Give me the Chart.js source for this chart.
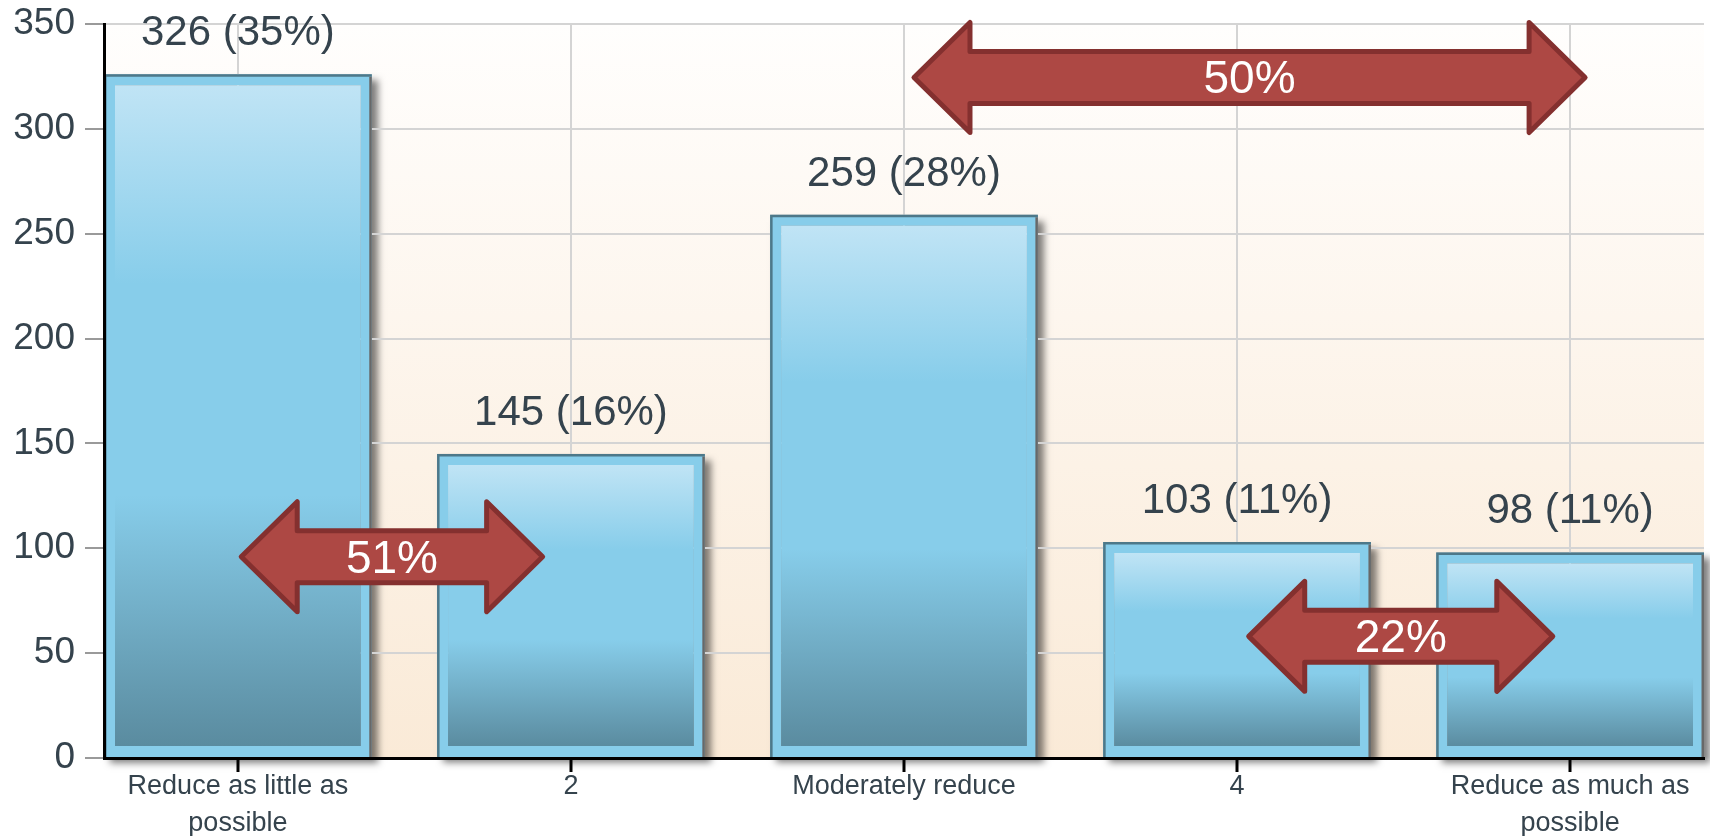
<!DOCTYPE html>
<html>
<head>
<meta charset="utf-8">
<script src="https://cdn.jsdelivr.net/npm/chart.js@4/dist/chart.umd.min.js"></script>
<style>
  html, body { margin: 0; padding: 0; background: #ffffff; overflow: hidden; }
  #wrap { width: 1710px; height: 836px; position: relative; }
</style>
</head>
<body>
<div id="wrap"><canvas id="chart"></canvas></div>
<script>
// Answer categories (multi-line labels are given as arrays of lines)
const categories = [
  ['Reduce as little as', 'possible'],
  '2',
  'Moderately reduce',
  '4',
  ['Reduce as much as', 'possible']
];
// Number of responses per category
const counts = [326, 145, 259, 103, 98];
// Value axis ticks
const yTicks = [0, 50, 100, 150, 200, 250, 300, 350];
// Combined shares shown on the double arrows
const arrowLabels = ['51%', '50%', '22%'];

// Where each double arrow sits, in axis units (category index / count)
const arrowSpans = [
  { from: 0.01, to: 0.915, level: 96 },
  { from: 2.03, to: 4.045, level: 324.5 },
  { from: 3.035, to: 3.948, level: 58 }
];

const FONT = "'Liberation Sans', Arial, Helvetica, sans-serif";
const TEXT = '#35434d';
const FRAME = '#87cdea';
const FRAME_W = 11;

const total = counts.reduce((a, b) => a + b, 0);

function barFill(c) {
  const chart = c.chart;
  const ys = chart.scales && chart.scales.y;
  if (c.type !== 'data' || !ys || !c.parsed) return FRAME;
  const top = ys.getPixelForValue(c.parsed.y) + FRAME_W;
  const bot = ys.getPixelForValue(0) - FRAME_W;
  if (!isFinite(top) || !isFinite(bot) || bot <= top) return FRAME;
  const g = chart.ctx.createLinearGradient(0, top, 0, bot);
  g.addColorStop(0, '#c0e4f5');
  g.addColorStop(0.3, '#87cdea');
  g.addColorStop(0.62, '#87cdea');
  g.addColorStop(1, '#5a8b9f');
  return g;
}

function drawArrow(ctx, x0, x1, yc, label) {
  const headLen = 56, headHalf = 55, shaftHalf = 26;
  ctx.save();
  ctx.beginPath();
  ctx.moveTo(x0, yc);
  ctx.lineTo(x0 + headLen, yc - headHalf);
  ctx.lineTo(x0 + headLen, yc - shaftHalf);
  ctx.lineTo(x1 - headLen, yc - shaftHalf);
  ctx.lineTo(x1 - headLen, yc - headHalf);
  ctx.lineTo(x1, yc);
  ctx.lineTo(x1 - headLen, yc + headHalf);
  ctx.lineTo(x1 - headLen, yc + shaftHalf);
  ctx.lineTo(x0 + headLen, yc + shaftHalf);
  ctx.lineTo(x0 + headLen, yc + headHalf);
  ctx.closePath();
  ctx.fillStyle = '#ad4844';
  ctx.fill();
  ctx.lineWidth = 5;
  ctx.lineJoin = 'round';
  ctx.strokeStyle = '#84302f';
  ctx.stroke();
  ctx.fillStyle = '#ffffff';
  ctx.font = '46px ' + FONT;
  ctx.textAlign = 'center';
  ctx.textBaseline = 'alphabetic';
  ctx.fillText(label, (x0 + x1) / 2, yc + 16);
  ctx.restore();
}

const decor = {
  id: 'decor',
  beforeDraw(chart) {
    const { ctx, chartArea: a } = chart;
    ctx.save();
    // warm plot background
    const g = ctx.createLinearGradient(0, a.top, 0, a.bottom);
    g.addColorStop(0, '#fffefd');
    g.addColorStop(1, '#faead7');
    ctx.fillStyle = g;
    ctx.fillRect(a.left, a.top, a.right - a.left, a.bottom - a.top);
    // soft drop shadow behind each bar
    ctx.shadowColor = 'rgba(0,0,0,0.5)';
    ctx.shadowBlur = 7;
    ctx.shadowOffsetX = 6;
    ctx.shadowOffsetY = 6;
    ctx.fillStyle = '#9a9a9a';
    chart.getDatasetMeta(0).data.forEach(b => {
      const p = b.getProps(['x', 'y', 'base', 'width'], true);
      ctx.fillRect(p.x - p.width / 2, p.y, p.width, p.base - p.y);
    });
    ctx.restore();
  },
  afterDatasetsDraw(chart) {
    const { ctx } = chart;
    const meta = chart.getDatasetMeta(0);
    ctx.save();
    meta.data.forEach((b, i) => {
      const p = b.getProps(['x', 'y', 'base', 'width'], true);
      const l = p.x - p.width / 2, r = p.x + p.width / 2;
      // thin edge lines
      ctx.lineWidth = 2.5;
      ctx.strokeStyle = '#4d7889';
      ctx.beginPath();
      ctx.moveTo(l + 1.25, p.base);
      ctx.lineTo(l + 1.25, p.y + 1.25);
      ctx.lineTo(r, p.y + 1.25);
      ctx.stroke();
      ctx.strokeStyle = '#686868';
      ctx.beginPath();
      ctx.moveTo(r - 1.25, p.y + 2.5);
      ctx.lineTo(r - 1.25, p.base);
      ctx.stroke();
      // value label
      const v = counts[i];
      const pct = Math.round(v / total * 100);
      ctx.fillStyle = TEXT;
      ctx.font = '42px ' + FONT;
      ctx.textAlign = 'center';
      ctx.textBaseline = 'alphabetic';
      ctx.fillText(v + ' (' + pct + '%)', p.x, p.y - 29);
    });
    ctx.restore();
  },
  afterDraw(chart) {
    const { ctx, scales } = chart;
    arrowSpans.forEach((s, i) => {
      drawArrow(ctx,
        scales.x.getPixelForValue(s.from),
        scales.x.getPixelForValue(s.to),
        scales.y.getPixelForValue(s.level),
        arrowLabels[i]);
    });
  }
};

new Chart(document.getElementById('chart'), {
  type: 'bar',
  data: {
    datasets: [{
      data: counts.map((v, i) => ({ x: i, y: v })),
      backgroundColor: barFill,
      borderColor: FRAME,
      borderWidth: FRAME_W,
      borderSkipped: false,
      categoryPercentage: 1,
      barPercentage: 0.804
    }]
  },
  options: {
    responsive: true,
    maintainAspectRatio: false,
    animation: false,
    events: [],
    layout: { padding: { top: 24, right: 6, left: 0, bottom: 0 } },
    plugins: {
      legend: { display: false },
      tooltip: { enabled: false }
    },
    scales: {
      x: {
        type: 'linear',
        bounds: 'data',
        min: -0.402,
        max: categories.length - 1 + 0.402,
        offset: false,
        afterBuildTicks: s => { s.ticks = categories.map((_, i) => ({ value: i })); },
        afterFit: s => { s.height = 78; },
        grid: {
          offset: false,
          color: '#d4d4d4',
          lineWidth: 2,
          tickColor: '#000000',
          tickWidth: 3,
          tickLength: 14
        },
        border: { color: '#000000', width: 3, z: 1 },
        ticks: {
          callback: v => categories[v],
          autoSkip: false,
          maxRotation: 0,
          minRotation: 0,
          padding: -4,
          color: TEXT,
          font: { family: FONT, size: 27, lineHeight: 1.38 }
        }
      },
      y: {
        min: yTicks[0],
        max: yTicks[yTicks.length - 1],
        afterFit: s => { s.width = 104; },
        grid: {
          color: '#d4d4d4',
          lineWidth: 2,
          tickColor: '#9a9a9a',
          tickWidth: 2,
          tickLength: 19
        },
        border: { color: '#000000', width: 3, z: 1 },
        ticks: {
          stepSize: yTicks[1] - yTicks[0],
          padding: 10,
          color: TEXT,
          font: { family: FONT, size: 37, lineHeight: 0.7 }
        }
      }
    }
  },
  plugins: [decor]
});
</script>
</body>
</html>
